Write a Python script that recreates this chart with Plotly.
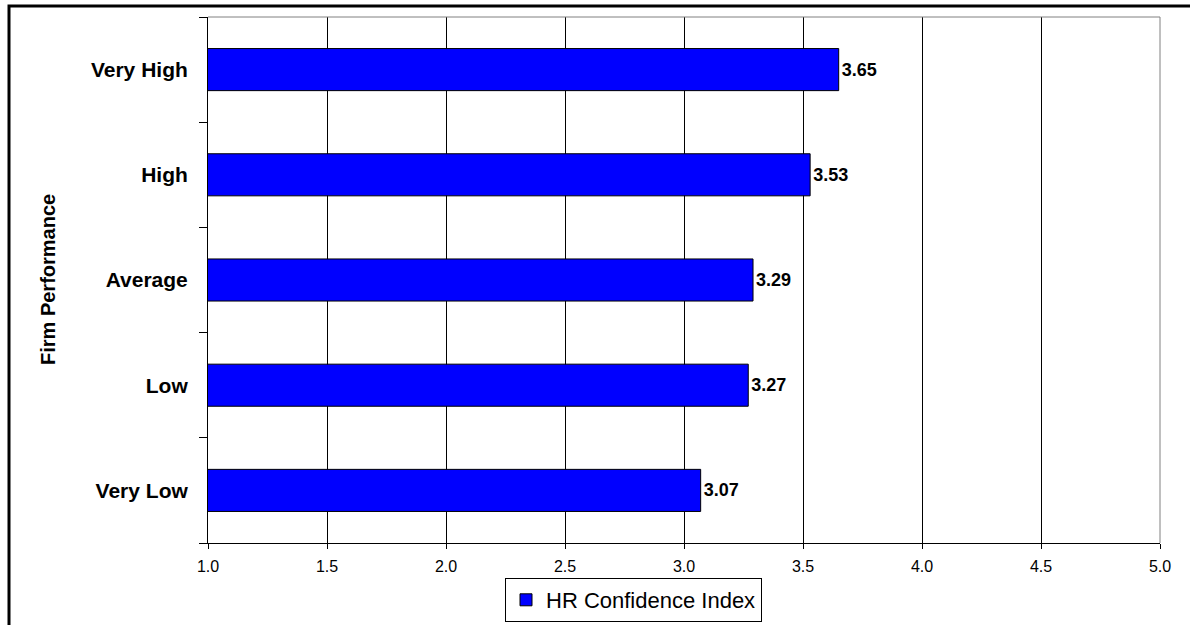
import plotly.graph_objects as go

categories = ["Very Low", "Low", "Average", "High", "Very High"]
values = [3.07, 3.27, 3.29, 3.53, 3.65]
value_labels = ["3.07", "3.27", "3.29", "3.53", "3.65"]
x_ticks = [1.0, 1.5, 2.0, 2.5, 3.0, 3.5, 4.0, 4.5, 5.0]
series_name = "HR Confidence Index"

FONT = "Arial, Liberation Sans, sans-serif"

fig = go.Figure()
fig.add_trace(go.Bar(
    y=categories, x=values, orientation="h", name=series_name,
    marker=dict(color="#0000FF", line=dict(color="#000000", width=1)),
    text=value_labels, textposition="outside", cliponaxis=False,
    textfont=dict(family=FONT, size=18, color="#000000", weight="bold"),
    showlegend=True,
))

W, H = 1190, 625
L, R, T, B = 208, 30, 17, 82
pw = W - L - R
ph = H - T - B

def px_x(x):
    return (x - L) / pw

def px_y(y):
    return (H - B - y) / ph

fig.update_layout(
    width=W, height=H,
    margin=dict(l=L, r=R, t=T, b=B, pad=0, autoexpand=False),
    paper_bgcolor="white", plot_bgcolor="white",
    bargap=0.6,
    font=dict(family=FONT, color="#000000"),
    xaxis=dict(
        range=[1, 5], tickvals=x_ticks, tickformat=".1f",
        ticks="outside", ticklen=5, tickcolor="#000000",
        showgrid=True, gridcolor="#000000", gridwidth=1,
        showline=True, linecolor="#000000", linewidth=1,
        zeroline=False, tickfont=dict(family=FONT, size=16, color="#000000"),
        ticklabelstandoff=4,
        fixedrange=True,
    ),
    yaxis=dict(
        categoryorder="array", categoryarray=categories,
        ticks="outside", tickson="boundaries", ticklen=8, tickcolor="#000000",
        showgrid=False, showline=True, linecolor="#000000", linewidth=1,
        tickfont=dict(family=FONT, size=21, color="#000000", weight="bold"),
        ticklabelstandoff=15,
    ),
    legend=dict(
        orientation="h", xref="container", yref="container",
        x=633.5 / W, xanchor="center", y=(H - 622) / H, yanchor="bottom",
        bordercolor="#000000", borderwidth=1, bgcolor="white",
        font=dict(family=FONT, size=22, color="#000000"),
        itemwidth=30, tracegroupgap=0,
    ),
    shapes=[
        dict(type="line", xref="paper", yref="paper", x0=0, x1=1, y0=1, y1=1,
             line=dict(color="#808080", width=1)),
        dict(type="line", xref="paper", yref="paper", x0=1, x1=1, y0=0, y1=1,
             line=dict(color="#808080", width=1)),
        dict(type="rect", xref="paper", yref="paper",
             x0=px_x(9), x1=px_x(1210), y0=px_y(660), y1=px_y(6),
             line=dict(color="#000000", width=3), layer="above"),
    ],
    annotations=[
        dict(text="Firm Performance", xref="paper", yref="paper",
             x=px_x(48), y=px_y(280), xanchor="center", yanchor="middle",
             textangle=-90, showarrow=False,
             font=dict(family=FONT, size=20, color="#000000", weight="bold")),
    ],
)

fig.write_html("out.html")
